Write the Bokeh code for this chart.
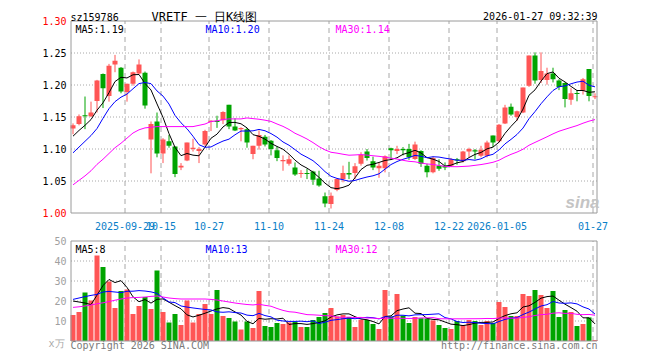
import numpy as np
from bokeh.plotting import figure
from bokeh.models import Range1d, ColumnDataSource, Label
from bokeh.core.properties import value
from bokeh.embed import file_html
from bokeh.resources import INLINE

# ---------------- data ----------------
opens = [1.132, 1.139, 1.152, 1.151, 1.175, 1.217, 1.183, 1.232, 1.227, 1.189,
         1.202, 1.218, 1.219, 1.115, 1.143, 1.093, 1.112, 1.104, 1.071, 1.082,
         1.100, 1.097, 1.107, 1.142, 1.144, 1.145, 1.169, 1.135, 1.131, 1.131,
         1.092, 1.105, 1.119, 1.113, 1.098, 1.081, 1.077, 1.071, 1.061, 1.0625,
         1.065, 1.054, 1.026, 1.014, 1.036, 1.053, 1.0625, 1.0625, 1.077, 1.096,
         1.081, 1.070, 1.070, 1.101, 1.097, 1.100, 1.100, 1.0845, 1.097, 1.074,
         1.0635, 1.074, 1.074, 1.074, 1.084, 1.081, 1.096, 1.098, 1.0895, 1.0895,
         1.121, 1.112, 1.140, 1.166, 1.150, 1.157, 1.199, 1.246, 1.208, 1.208,
         1.218, 1.207, 1.203, 1.177, 1.187, 1.191, 1.225, 1.181]
closes = [1.137, 1.151, 1.151, 1.157, 1.207, 1.195, 1.230, 1.238, 1.190, 1.202,
          1.220, 1.232, 1.168, 1.139, 1.093, 1.115, 1.105, 1.061, 1.074, 1.110,
          1.102, 1.100, 1.128, 1.144, 1.142, 1.158, 1.135, 1.129, 1.133, 1.110,
          1.105, 1.122, 1.107, 1.100, 1.086, 1.083, 1.084, 1.060, 1.0625, 1.061,
          1.052, 1.043, 1.015, 1.027, 1.053, 1.0625, 1.060, 1.073, 1.091, 1.086,
          1.071, 1.074, 1.0885, 1.098, 1.100, 1.098, 1.087, 1.107, 1.077, 1.0635,
          1.086, 1.069, 1.071, 1.084, 1.082, 1.096, 1.100, 1.096, 1.099, 1.110,
          1.110, 1.138, 1.165, 1.154, 1.159, 1.196, 1.246, 1.207, 1.222, 1.218,
          1.209, 1.197, 1.178, 1.187, 1.186, 1.209, 1.183, 1.182]
highs = [1.140, 1.154, 1.182, 1.174, 1.208, 1.218, 1.233, 1.247, 1.228, 1.202,
         1.221, 1.240, 1.221, 1.143, 1.157, 1.117, 1.122, 1.104, 1.078, 1.110,
         1.116, 1.103, 1.130, 1.145, 1.152, 1.159, 1.169, 1.148, 1.134, 1.133,
         1.105, 1.129, 1.122, 1.114, 1.104, 1.090, 1.090, 1.079, 1.067, 1.069,
         1.066, 1.066, 1.032, 1.032, 1.054, 1.074, 1.080, 1.078, 1.095, 1.100,
         1.088, 1.079, 1.090, 1.102, 1.105, 1.103, 1.108, 1.1115, 1.098, 1.077,
         1.088, 1.084, 1.079, 1.086, 1.086, 1.097, 1.102, 1.100, 1.105, 1.113,
         1.121, 1.139, 1.169, 1.171, 1.160, 1.196, 1.246, 1.251, 1.251, 1.227,
         1.227, 1.209, 1.204, 1.195, 1.192, 1.211, 1.225, 1.187]
lows = [1.123, 1.137, 1.131, 1.150, 1.157, 1.164, 1.174, 1.220, 1.187, 1.174,
        1.199, 1.217, 1.163, 1.062, 1.087, 1.078, 1.102, 1.056, 1.067, 1.081,
        1.096, 1.078, 1.105, 1.128, 1.133, 1.139, 1.131, 1.128, 1.112, 1.102,
        1.084, 1.099, 1.104, 1.090, 1.081, 1.066, 1.074, 1.058, 1.055, 1.053,
        1.044, 1.041, 1.009, 1.007, 1.034, 1.048, 1.053, 1.053, 1.074, 1.082,
        1.067, 1.055, 1.0635, 1.084, 1.092, 1.090, 1.083, 1.083, 1.072, 1.0557,
        1.062, 1.066, 1.067, 1.072, 1.0755, 1.079, 1.087, 1.084, 1.087, 1.087,
        1.103, 1.110, 1.139, 1.152, 1.144, 1.156, 1.197, 1.202, 1.203, 1.2005,
        1.204, 1.192, 1.165, 1.169, 1.1745, 1.185, 1.1745, 1.178]
volumes = [13.0, 14.5, 24.2, 20.2, 42.7, 37.0, 29.7, 16.5, 25.0, 25.7,
           13.5, 17.5, 22.0, 16.0, 35.2, 14.5, 9.2, 13.5, 8.0, 20.2,
           9.2, 13.5, 18.5, 13.5, 25.5, 12.5, 11.5, 9.7, 5.7, 9.7,
           6.5, 25.0, 7.5, 7.0, 9.0, 8.5, 9.3, 9.7, 7.0, 7.0,
           10.5, 12.0, 14.0, 16.5, 12.3, 13.0, 12.0, 7.0, 10.7, 10.5,
           8.5, 6.0, 25.5, 12.3, 23.5, 12.7, 9.0, 12.0, 11.4, 11.3,
           10.3, 8.0, 6.5, 6.0, 10.0, 8.0, 10.5, 10.0, 8.0, 10.0,
           9.0, 19.5, 17.0, 12.5, 12.5, 23.5, 22.5, 25.5, 23.0, 16.5,
           25.0, 12.0, 15.5, 14.5, 7.5, 8.5, 11.8, 0.5]

# moving-average values before a full window is visible
ma5_head = [1.120, 1.129, 1.137, 1.146]
ma10_head = [1.094, 1.103, 1.112, 1.121, 1.132, 1.148, 1.163, 1.174, 1.181]
ma30_head = [1.044, 1.051, 1.058, 1.066, 1.076, 1.084, 1.093, 1.102, 1.109, 1.117,
             1.125, 1.130, 1.133, 1.134, 1.135, 1.135, 1.135, 1.135, 1.135, 1.135,
             1.135, 1.137, 1.139, 1.143, 1.144, 1.146, 1.147, 1.147, 1.147]
vma5_head = [20.0, 19.5, 19.0, 18.2]
vma10_head = [20.8, 21.5, 22.2, 22.8, 23.3, 24.5, 24.8, 24.5, 24.2]
vma30_head = [16.8, 17.1, 17.5, 18.0, 18.6, 19.1, 19.7, 20.4, 21.0, 21.5,
              21.7, 21.8, 22.0, 22.3, 22.5, 22.0, 21.5, 21.2, 21.0, 21.0,
              21.0, 21.0, 21.0, 20.8, 20.5, 20.0, 19.5, 19.0, 18.6]

date_tick_index = [9, 15, 23, 33, 43, 53, 63, 71, 87]
date_tick_labels = ["2025-09-29", "10-15", "10-27", "11-10", "11-24",
                    "12-08", "12-22", "2026-01-05", "01-27"]
price_ticks = [1.00, 1.05, 1.10, 1.15, 1.20, 1.25, 1.30]
price_tick_labels = ["1.00", "1.05", "1.10", "1.15", "1.20", "1.25", "1.30"]
price_tick_colors = ["#ff0000", "#000000", "#000000", "#000000", "#000000", "#000000", "#ff0000"]
vol_ticks = [10, 20, 30, 40, 50]
vol_tick_labels = ["10", "20", "30", "40", "50"]

symbol = "sz159786"
title = "VRETF 一 日K线图"
stamp = "2026-01-27 09:32:39"
ma_price_texts = ["MA5:1.19", "MA10:1.20", "MA30:1.14"]
ma_vol_texts = ["MA5:8", "MA10:13", "MA30:12"]
ma_colors = ["#000000", "#0000ff", "#ff00ff"]
unit_text = "x万"
copyright_text = "Copyright 2026 SINA.COM"
url_text = "http://finance.sina.com.cn"

# ---------------- derived ----------------
RED = "#ff5555"
GREEN = "#00a400"
FRAME = "#9a9a9a"
GRID = "#a8a8a8"
FONT = "DejaVu Sans Mono"
W, H = 652, 352
n = len(closes)
xs = list(range(n))

# panel extents in data units
X_LEFT, X_RIGHT = -1 / 3, n - 1 + 1 / 3
P_LO, P_HI = price_ticks[0], price_ticks[-1]
V_LO, V_HI = 0, vol_ticks[-1]
PX = 0.05 / 32          # price units per pixel
VX = 0.5                # volume units per pixel


def moving(vals, w, head):
    a = np.asarray(vals, dtype=float)
    out = list(head)
    for i in range(w - 1, len(a)):
        out.append(float(a[i - w + 1:i + 1].mean()))
    return out


colors = [RED if c >= o else GREEN for o, c in zip(opens, closes)]
body_bottom = [min(o, c) for o, c in zip(opens, closes)]
body_top = [max(max(o, c), min(o, c) + 0.0016) for o, c in zip(opens, closes)]

src = ColumnDataSource(dict(x=xs, h=highs, l=lows, top=body_top, bottom=body_bottom,
                            v=volumes, color=colors))

grid_x = [i - 1 / 3 for i in date_tick_index]

# one canvas: price scale (default) and volume scale (extra) share the x scale
p = figure(width=W, height=H, title=None,
           x_range=Range1d(-72.5 / 6, (W - 72.5) / 6),
           y_range=Range1d(P_HI - (H - 20.5) * PX, P_HI + 20.5 * PX),
           output_backend="svg", toolbar_location=None,
           x_axis_location=None, y_axis_location=None, min_border=0)
p.extra_y_ranges = {"vol": Range1d(V_LO - (H - 340.5) * VX, V_LO + 340.5 * VX)}
p.outline_line_color = None
p.xgrid.visible = False
p.ygrid.visible = False

# ---- grids ----
mid_p = price_ticks[1:-1]
p.segment(x0=[X_LEFT] * len(mid_p), x1=[X_RIGHT] * len(mid_p), y0=mid_p, y1=mid_p,
          line_color=GRID, line_width=1, line_dash="1 2")
p.segment(x0=grid_x, x1=grid_x, y0=[P_LO] * len(grid_x), y1=[P_HI] * len(grid_x),
          line_color=GRID, line_width=1, line_dash="5 4")
mid_v = vol_ticks[:-1]
p.segment(x0=[X_LEFT] * len(mid_v), x1=[X_RIGHT] * len(mid_v), y0=mid_v, y1=mid_v,
          line_color=GRID, line_width=1, line_dash="1 2", y_range_name="vol")
p.segment(x0=grid_x, x1=grid_x, y0=[V_LO] * len(grid_x), y1=[V_HI] * len(grid_x),
          line_color=GRID, line_width=1, line_dash="5 4", y_range_name="vol")

# ---- candles ----
p.segment(x0="x", y0="l", x1="x", y1="h", line_color="color", line_width=1, source=src)
p.vbar(x="x", width=5 / 6, top="top", bottom="bottom", fill_color="color",
       line_color=None, source=src)
for w, head, col in ((5, ma5_head, ma_colors[0]), (10, ma10_head, ma_colors[1]),
                     (30, ma30_head, ma_colors[2])):
    p.line(xs, moving(closes, w, head), line_color=col, line_width=1)

# ---- volume ----
p.vbar(x="x", width=5 / 6, top="v", bottom=0, fill_color="color", line_color=None,
       source=src, y_range_name="vol")
for w, head, col in ((5, vma5_head, ma_colors[0]), (10, vma10_head, ma_colors[1]),
                     (30, vma30_head, ma_colors[2])):
    p.line(xs, moving(volumes, w, head), line_color=col, line_width=1, y_range_name="vol")

# ---- frames ----
p.quad(left=[X_LEFT], right=[X_RIGHT], bottom=[P_LO], top=[P_HI],
       fill_color=None, line_color=FRAME, line_width=1)
p.quad(left=[X_LEFT], right=[X_RIGHT], bottom=[V_LO], top=[V_HI],
       fill_color=None, line_color=FRAME, line_width=1, y_range_name="vol")


def label(x, y, text, color, size="10px", align="left", baseline="alphabetic",
          vol=False, font=FONT, style="normal"):
    kw = dict(x=x, y=y, text=text, text_color=color, text_font=font,
              text_font_size=size, text_align=align, text_baseline=baseline,
              text_font_style=style)
    if vol:
        kw["y_range_name"] = "vol"
    p.add_layout(Label(**kw))


# ---- tick labels ----
lab_x = X_LEFT - 0.75
for t, s, c in zip(price_ticks, price_tick_labels, price_tick_colors):
    label(lab_x, t, s, c, align="right", baseline="middle")
for t, s in zip(vol_ticks, vol_tick_labels):
    label(lab_x, t, s, "#a0a0a0", align="right", baseline="middle", vol=True)
for gx, s in zip(grid_x, date_tick_labels):
    label(gx, P_LO - 12.5 * PX, s, "#0a80c8", align="center")

# ---- header ----
label(X_LEFT - 0.08, P_HI + 3.8 * PX, symbol, "#000000")
label(13.08, P_HI + 3.8 * PX, title, "#000000", size="12px")
label(X_RIGHT + 0.08, P_HI + 4.5 * PX, stamp, "#000000", align="right")

# ---- MA legends ----
leg_x = [0.42, 22.08, 43.75]
for lx, s, c in zip(leg_x, ma_price_texts, ma_colors):
    label(lx, P_HI - 8.8 * PX, s, c)
for lx, s, c in zip(leg_x, ma_vol_texts, ma_colors):
    label(lx, V_HI - 8.8 * VX, s, c, vol=True)

# ---- watermark ----
label(82.08, P_LO + 10.5 * PX, "sina", "#c4c4c4", size="17px",
      font="Liberation Sans", style="bold italic")

# ---- footer (text glyphs) ----
p.text(x=[X_LEFT - 3.75], y=[V_LO - 2.5 * VX], text=[unit_text], text_color="#a8a8a8",
       text_baseline="alphabetic", text_font=value(FONT), text_font_size="10px",
       y_range_name="vol")
p.text(x=[X_LEFT - 0.08], y=[V_LO - 4.5 * VX], text=[copyright_text], text_color="#7a7a7a",
       text_baseline="alphabetic", text_font=value(FONT), text_font_size="10px",
       y_range_name="vol")
p.text(x=[X_RIGHT + 0.08], y=[V_LO - 4.5 * VX], text=[url_text], text_color="#7a7a7a",
       text_align="right", text_baseline="alphabetic", text_font=value(FONT),
       text_font_size="10px", y_range_name="vol")

open("out.html", "w").write(file_html(p, INLINE))
